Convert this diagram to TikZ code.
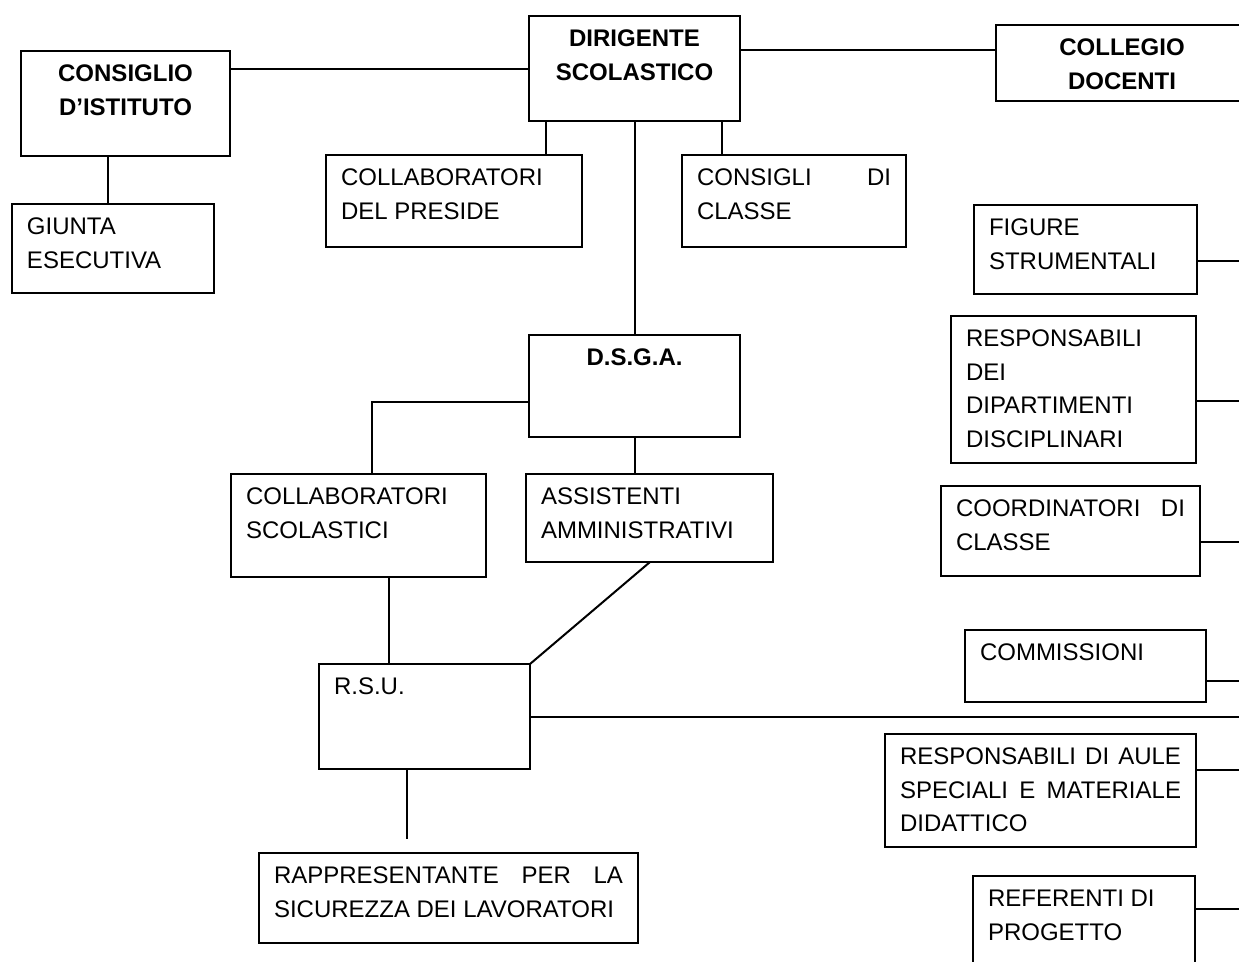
\documentclass[tikz,border=0pt]{standalone}
\usepackage{fontspec}
\setmainfont{Liberation Sans}
\usetikzlibrary{calc, positioning}
\newcommand*{\boxtxt}[3]{\parbox[c][\dimexpr#2pt-28pt\relax][t]{\dimexpr#1pt-30pt\relax}{#3}}

\begin{document}
\begin{tikzpicture}[x=1pt, y=-1pt, line width=2pt,
  box/.style={draw, anchor=north west, inner xsep=15pt, inner ysep=14pt, outer sep=0pt},
  font=\fontsize{24}{33.5}\selectfont]
 \clip (0,0) rectangle (1239,961);
 \coordinate (rim) at (1250,0);
 \node[box] (ci) at (21,51) {\boxtxt{209}{105}{\centering\bfseries CONSIGLIO\\D'ISTITUTO}};
 \node[box] (ge) at (12,204) {\boxtxt{202}{89}{\raggedright GIUNTA\\ESECUTIVA}};
 \node[box] (ds) at (529,16) {\boxtxt{211}{105}{\centering\bfseries DIRIGENTE\\SCOLASTICO}};
 \node[box] (cd) at (996,25) {\boxtxt{252}{76}{\centering\bfseries COLLEGIO\\DOCENTI}};
 \node[box] (cp) at (326,155) {\boxtxt{256}{92}{\raggedright COLLABORATORI\\DEL PRESIDE}};
 \node[box] (cc) at (682,155) {\boxtxt{224}{92}{\raggedright CONSIGLI\hfill DI\\CLASSE}};
 \node[box] (dsga) at (529,335) {\boxtxt{211}{102}{\centering\bfseries D.S.G.A.}};
 \node[box] (cs) at (231,474) {\boxtxt{255}{103}{\raggedright COLLABORATORI\\SCOLASTICI}};
 \node[box] (aa) at (526,474) {\boxtxt{247}{88}{\raggedright ASSISTENTI\\AMMINISTRATIVI}};
 \node[box] (rsu) at (319,664) {\boxtxt{211}{105}{\raggedright R.S.U.}};
 \node[box] (rls) at (259,853) {\boxtxt{379}{90}{\raggedright RAPPRESENTANTE\hfill PER\hfill LA\\SICUREZZA DEI LAVORATORI}};
 \node[box] (fs) at (974,205) {\boxtxt{223}{89}{\raggedright FIGURE\\STRUMENTALI}};
 \node[box] (rd) at (951,316) {\boxtxt{245}{147}{\raggedright RESPONSABILI\\DEI\\DIPARTIMENTI\\DISCIPLINARI}};
 \node[box] (cdc) at (941,486) {\boxtxt{259}{90}{\raggedright COORDINATORI\hfill DI\\CLASSE}};
 \node[box] (com) at (965,630) {\boxtxt{241}{72}{\raggedright COMMISSIONI}};
 \node[box] (ras) at (885,734) {\boxtxt{311}{113}{\raggedright RESPONSABILI\hfill DI\hfill AULE\\SPECIALI\hfill E\hfill MATERIALE\\DIDATTICO}};
 \node[box] (rp) at (973,876) {\boxtxt{222}{95}{\raggedright REFERENTI DI\\PROGETTO}};
 \coordinate (rlstop) at ([xshift=148pt,yshift=14pt]rls.north west);

 \draw (ds.west) -- (ds.west -| ci.east);
 \draw ([yshift=-25pt]cd.north west) -- ([yshift=-25pt]cd.north west -| ds.east);
 \draw ([xshift=87pt]ci.south west) -- ([xshift=87pt]ci.south west |- ge.north);
 \draw ([xshift=17pt]ds.south west) -- ([xshift=17pt]ds.south west |- cp.north);
 \draw ([xshift=-18pt]ds.south east) -- ([xshift=-18pt]ds.south east |- cc.north);
 \draw (ds.south) -- (dsga.north);
 \draw ([yshift=-67pt]dsga.north west) -| ([xshift=141pt]cs.north west);
 \draw (dsga.south) -- (dsga.south |- aa.north);
 \draw ([xshift=158pt]cs.south west) -- ([xshift=158pt]cs.south west |- rsu.north);
 \draw ([xshift=124pt]aa.south west) -- (rsu.north east);
 \draw ([xshift=88pt]rsu.south west) -- (rlstop);
 \draw (rsu.east) -- (rsu.east -| rim);
 \foreach \n/\d in {fs/-11, rd/-11, cdc/-11, com/-15, ras/21}
  \draw ([yshift=\d pt]\n.east) -- ([yshift=\d pt]\n.east -| rim);
 \draw ([yshift=-33pt]rp.north east) -- ([yshift=-33pt]rp.north east -| rim);
\end{tikzpicture}
\end{document}
